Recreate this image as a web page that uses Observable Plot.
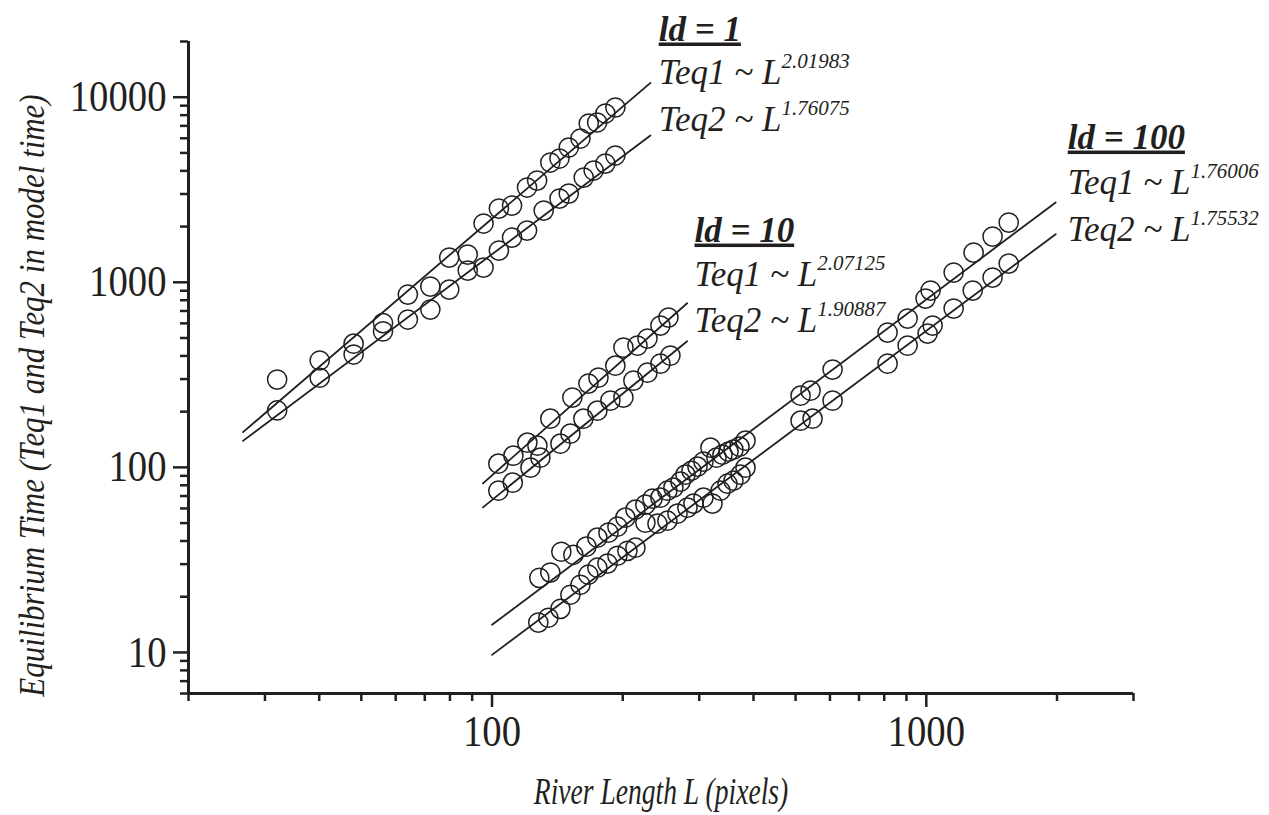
<!DOCTYPE html>
<html><head><meta charset="utf-8">
<script src="https://cdn.jsdelivr.net/npm/d3@7"></script>
<script src="https://cdn.jsdelivr.net/npm/@observablehq/plot@0.6"></script>
<style>
body{margin:0;background:#fff;}
</style></head><body><div id="chart"></div>
<script>
// ---- ld = 1 ----
const ld1_L1 = [32.0, 40.1, 48.0, 56.1, 64.0, 72.1, 79.7, 87.9, 95.6, 103.7, 111.2, 120.4, 127.0, 136.2, 143.0, 150.2, 159.8, 167.0, 174.6, 182.4, 192.3];
const ld1_T1 = [298, 378, 466, 602, 858, 948, 1360, 1411, 2077, 2502, 2597, 3250, 3545, 4436, 4663, 5347, 5981, 7208, 7300, 8163, 8797];
const ld1_L2 = [32.0, 40.1, 48.0, 56.1, 64.0, 72.1, 79.7, 87.9, 95.6, 103.7, 111.2, 120.4, 131.5, 143.0, 150.2, 162.6, 171.4, 182.4, 192.3];
const ld1_T2 = [203, 305, 407, 543, 629, 712, 913, 1157, 1201, 1484, 1744, 1903, 2440, 2834, 3016, 3680, 4016, 4380, 4840];
// ---- ld = 10 ----
const ld10_L1 = [103.4, 112.0, 120.6, 127.2, 136.2, 153.1, 166.7, 175.8, 192.3, 200.7, 216.2, 228.0, 244.2, 254.8];
const ld10_T1 = [104.7, 115.7, 136.0, 131.0, 183.3, 238.2, 283.5, 305.4, 354.5, 443.6, 454.8, 496.2, 583.3, 644.6];
const ld10_L2 = [103.4, 111.6, 122.6, 129.2, 143.7, 151.5, 162.3, 174.8, 187.3, 200.7, 211.6, 228.0, 244.2, 257.5];
const ld10_T2 = [74.8, 82.7, 99.6, 112.8, 134.3, 152.1, 183.3, 202.5, 229.4, 238.2, 294.2, 325.0, 363.5, 401.6];
// ---- ld = 100 ----
const ld100_L1 = [128.5, 136.2, 144.4, 153.9, 164.9, 174.8, 185.4, 194.4, 202.8, 213.9, 225.5, 234.1, 244.2, 253.4, 261.6, 271.6, 278.9, 287.9, 297.2, 306.8, 318.4, 328.7, 339.3, 350.4, 359.7, 371.4, 383.4, 513.4, 541.3, 608.4, 814.4, 905.7, 996, 1023, 1156, 1285, 1421, 1548];
const ld100_T1 = [25.3, 27.0, 35.0, 33.7, 37.3, 41.7, 44.4, 47.8, 53.5, 59.1, 62.9, 67.7, 68.6, 74.8, 77.7, 83.7, 91.3, 95.9, 100.9, 107.4, 127.8, 112.8, 117.1, 121.6, 124.6, 129.4, 139.4, 244.1, 259.8, 337.5, 534.8, 636.6, 816.3, 901.9, 1128, 1447, 1766, 2102];
const ld100_L2 = [127.8, 134.8, 143.7, 151.5, 159.8, 166.7, 174.8, 184.4, 194.4, 205.0, 213.9, 225.5, 240.4, 253.4, 267.3, 281.8, 291.0, 306.8, 321.8, 335.7, 348.5, 359.7, 373.4, 383.4, 513.4, 547.1, 608.4, 814.4, 905.7, 1007, 1034, 1156, 1279, 1421, 1548];
const ld100_T2 = [14.5, 15.4, 17.2, 20.5, 23.2, 26.3, 28.7, 30.2, 33.3, 35.4, 36.8, 50.2, 49.6, 51.5, 56.2, 60.6, 63.7, 68.6, 63.7, 74.8, 81.6, 84.7, 91.3, 99.6, 178.8, 183.3, 229.4, 363.5, 454.8, 528.2, 583.3, 720.7, 901.9, 1060, 1262];

// ---- fitted power-law lines (end points) ----
const fitId = ["ld1-Teq1", "ld1-Teq2", "ld10-Teq1", "ld10-Teq2", "ld100-Teq1", "ld100-Teq2"];
const fitL0 = [26.7, 26.7, 95.3, 95.3, 100, 100];
const fitL1 = [231.6, 231.6, 281.4, 281.4, 1986, 1986];
const fitT0 = [155, 139, 81.9, 60.8, 14.1, 9.7];
const fitT1 = [11960, 6210, 770, 480, 2700, 1820];

// ---- annotations ----
const annHeader = ["ld = 1", "ld = 10", "ld = 100"];
const annEq1 = ["Teq1 ~ L^2.01983", "Teq1 ~ L^2.07125", "Teq1 ~ L^1.76006"];
const annEq2 = ["Teq2 ~ L^1.76075", "Teq2 ~ L^1.90887", "Teq2 ~ L^1.75532"];
const annL = [242, 292.5, 2117];
const annHeaderT = [20250, 1660, 5280];
const annEq1T = [11860, 960, 3016];
const annEq2T = [6607, 541, 1680];

// ---- axis ticks ----
const xMajor = [100, 1000];
const xMinor = [20, 30, 40, 50, 60, 70, 80, 90, 200, 300, 400, 500, 600, 700, 800, 900, 2000, 3000];
const yMajor = [10, 100, 1000, 10000];
const yMinor = [6, 7, 8, 9, 20, 30, 40, 50, 60, 70, 80, 90, 200, 300, 400, 500, 600, 700, 800, 900, 2000, 3000, 4000, 5000, 6000, 7000, 8000, 9000, 20000];

const xTitle = "River Length L (pixels)";
const yTitle = "Equilibrium Time (Teq1 and Teq2 in model time)";

// build tables
const points = [];
function addPts(Ls, Ts, id) { Ls.forEach((L, i) => points.push({L, T: Ts[i], id})); }
addPts(ld1_L1, ld1_T1, "ld1-Teq1"); addPts(ld1_L2, ld1_T2, "ld1-Teq2");
addPts(ld10_L1, ld10_T1, "ld10-Teq1"); addPts(ld10_L2, ld10_T2, "ld10-Teq2");
addPts(ld100_L1, ld100_T1, "ld100-Teq1"); addPts(ld100_L2, ld100_T2, "ld100-Teq2");

const fitRows = [];
fitId.forEach((id, i) => { fitRows.push({id, L: fitL0[i], T: fitT0[i]}); fitRows.push({id, L: fitL1[i], T: fitT1[i]}); });

const headers = annHeader.map((t, i) => ({t, L: annL[i], T: annHeaderT[i]}));
const eqs = annEq1.map((t, i) => ({t, L: annL[i], T: annEq1T[i]}))
  .concat(annEq2.map((t, i) => ({t, L: annL[i], T: annEq2T[i]})));

const ink = "#231f20";
const chart = Plot.plot({
  width: 1269, height: 815,
  marginLeft: 188, marginRight: 136, marginTop: 41, marginBottom: 122,
  style: {fontFamily: "'Liberation Serif', 'Times New Roman', serif", color: ink, background: "#fff"},
  x: {type: "log", domain: [20, 3000]},
  y: {type: "log", domain: [6, 20000]},
  marks: [
    Plot.axisX({ticks: xMinor, tickSize: 8, tickFormat: () => "", strokeWidth: 2.5, label: null}),
    Plot.axisX({ticks: xMajor, tickSize: 14, tickPadding: 7, tickFormat: d => String(d), fontSize: 44, strokeWidth: 2.5, label: null}),
    Plot.axisY({ticks: yMinor, tickSize: 8, tickFormat: () => "", strokeWidth: 2.5, label: null}),
    Plot.axisY({ticks: yMajor, tickSize: 15, tickPadding: 7, tickFormat: d => String(d), fontSize: 44, strokeWidth: 2.5, label: null}),
    Plot.ruleY([6], {stroke: ink, strokeWidth: 3}),
    Plot.ruleX([20], {stroke: ink, strokeWidth: 3}),
    Plot.line(fitRows, {x: "L", y: "T", z: "id", stroke: ink, strokeWidth: 1.8}),
    Plot.dot(points, {x: "L", y: "T", r: 9.6, stroke: ink, strokeWidth: 1.5, fill: "none"}),
    Plot.text(headers, {x: "L", y: "T", text: "t", textAnchor: "start", lineAnchor: "bottom", fontSize: 35, fontWeight: "bold", fontStyle: "italic", fill: ink}),
    Plot.text(eqs, {x: "L", y: "T", text: "t", textAnchor: "start", lineAnchor: "bottom", fontSize: 35, fontStyle: "italic", fill: ink}),
    Plot.text([xTitle], {frameAnchor: "bottom", textAnchor: "middle", dy: 110, lineAnchor: "bottom", fontSize: 37, fontStyle: "italic", fill: ink}),
    Plot.text([yTitle], {frameAnchor: "left", textAnchor: "middle", dx: -145, dy: 28, rotate: -90, lineAnchor: "bottom", fontSize: 36, fontStyle: "italic", fill: ink})
  ]
});
document.getElementById("chart").appendChild(chart);

// post-processing: superscripts, underline, condensed type
const svg = d3.select(chart);
svg.selectAll("text").each(function () {
  const t = this.textContent;
  const sel = d3.select(this);
  if (t.includes("^")) {
    const [base, exp] = t.split("^");
    sel.text(base);
    sel.append("tspan").attr("dy", -16).attr("font-size", 21).text(exp);
  } else if (t.startsWith("ld =")) {
    sel.style("text-decoration", "underline");
  }
});
function condense(node, k) {
  const w = node.getComputedTextLength();
  node.setAttribute("textLength", w * k);
  node.setAttribute("lengthAdjust", "spacingAndGlyphs");
}
svg.selectAll("text").each(function () {
  const t = this.textContent;
  if (t === xTitle) condense(this, 0.745);
  else if (t === yTitle) condense(this, 0.86);
  else if (/^\d+$/.test(t)) condense(this, 0.88);
});
</script></body></html>
